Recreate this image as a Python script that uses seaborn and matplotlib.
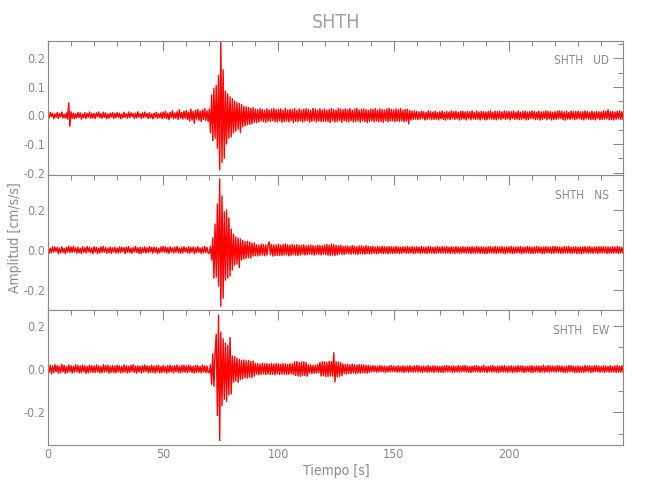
"""Three-component accelerogram, station SHTH (UD, NS, EW)."""

import matplotlib

matplotlib.use("Agg")
import matplotlib.pyplot as plt
import numpy as np
import pandas as pd
import seaborn as sns
from matplotlib.ticker import FormatStrFormatter, MultipleLocator

STATION = "SHTH"
COMPONENTS = ["UD", "NS", "EW"]
DT = 0.5  # s between samples
SCALE = 1e-3  # values below are in 0.001 cm/s/s

# amplitude samples (x 0.001 cm/s/s), one row = 10 s
UD_MILLI = [
    6, -9, 11, -4, 8, -12, 5, -7, 10, -11, 7, -5, 12, -9, 4, -10, 9, -13, 44, -38,
    13, -10, 8, -12, 6, -9, 11, -7, 9, -13, 5, -8, 10, -11, 7, -6, 12, -10, 8, -9,
    7, -11, 9, -5, 12, -8, 6, -10, 11, -7, 9, -12, 5, -9, 8, -6, 10, -11, 7, -8,
    10, -6, 8, -12, 5, -9, 11, -7, 6, -10, 12, -8, 9, -5, 7, -11, 8, -9, 13, -6,
    6, -10, 9, -8, 12, -6, 7, -11, 10, -9, 5, -12, 8, -7, 11, -10, 6, -8, 9, -11,
    12, -9, 14, -11, 8, -15, 11, -7, 16, -12, 9, -10, 13, -14, 20, -9, 11, -13, 15, -10,
    17, -14, 12, -20, 22, -16, 14, -28, 18, -12, 21, -17, 15, -22, 19, -14, 24, -18, 16, -21,
    22, -60, 72, -88, 95, -80, 105, -115, 140, -190, 255, -165, 160, -150, 85, -100, 75, -80, 65, -75,
    58, -62, 50, -55, 45, -48, 42, -60, 38, -40, 32, -36, 30, -33, 28, -31, 25, -30, 27, -24,
    22, -25, 20, -23, 24, -19, 21, -22, 18, -24, 23, -20, 19, -21, 22, -18, 24, -22, 20, -23,
    21, -19, 23, -24, 18, -22, 25, -20, 19, -23, 22, -18, 20, -25, 24, -21, 18, -22, 23, -19,
    19, -23, 22, -20, 24, -18, 21, -24, 17, -21, 25, -19, 22, -23, 18, -20, 24, -22, 19, -21,
    23, -20, 18, -22, 21, -25, 24, -19, 20, -23, 19, -21, 25, -18, 22, -24, 20, -19, 23, -22,
    20, -22, 24, -19, 18, -23, 22, -21, 25, -20, 19, -24, 21, -18, 23, -22, 20, -25, 18, -21,
    22, -19, 21, -23, 24, -20, 18, -22, 23, -21, 20, -24, 19, -18, 22, -23, 25, -20, 21, -19,
    19, -22, 23, -20, 20, -21, 24, -19, 18, -23, 21, -20, 22, -30, 17, -16, 15, -14, 16, -13,
    14, -15, 12, -13, 15, -11, 13, -16, 11, -14, 16, -12, 13, -15, 12, -14, 15, -13, 11, -16,
    13, -12, 15, -14, 11, -16, 14, -13, 12, -15, 16, -11, 13, -14, 15, -12, 11, -16, 14, -13,
    15, -13, 12, -16, 14, -11, 13, -15, 16, -12, 11, -14, 15, -13, 12, -16, 14, -12, 13, -15,
    12, -15, 14, -12, 16, -13, 11, -14, 15, -16, 13, -12, 14, -15, 12, -11, 16, -14, 13, -12,
    14, -16, 13, -11, 15, -14, 12, -13, 16, -15, 11, -13, 14, -12, 15, -16, 12, -14, 13, -11,
    16, -12, 14, -15, 11, -13, 15, -16, 12, -14, 13, -11, 16, -15, 14, -12, 13, -16, 11, -14,
    13, -14, 15, -12, 16, -11, 14, -15, 12, -16, 15, -13, 11, -14, 16, -12, 13, -15, 14, -13,
    15, -11, 12, -14, 13, -16, 16, -12, 14, -13, 11, -15, 15, -14, 12, -16, 14, -11, 13, -15,
    12, -14, 16, -13, 15, -12, 20, -15, 13, -14, 14, -16, 12, -13, 15, -11, 16, -14, 13, -15,
]

NS_MILLI = [
    12, -16, 9, -14, 17, -11, 15, -8, 13, -18, 10, -15, 16, -12, 8, -17, 14, -10, 18, -13,
    15, -12, 18, -9, 11, -16, 14, -13, 9, -17, 16, -11, 12, -15, 18, -10, 13, -14, 10, -18,
    17, -10, 13, -18, 9, -14, 16, -12, 18, -11, 12, -16, 10, -13, 15, -17, 11, -9, 14, -15,
    10, -15, 16, -13, 14, -9, 12, -18, 15, -11, 17, -14, 9, -16, 13, -10, 18, -12, 11, -17,
    14, -18, 11, -12, 16, -15, 10, -13, 17, -9, 13, -16, 15, -11, 12, -18, 9, -14, 16, -10,
    18, -11, 15, -14, 12, -17, 16, -10, 11, -15, 14, -12, 18, -13, 10, -16, 13, -15, 17, -9,
    11, -14, 17, -16, 13, -10, 15, -18, 12, -13, 16, -11, 10, -17, 14, -15, 18, -12, 13, -16,
    -15, 18, -50, 60, -140, 130, -135, 230, -180, 355, -280, 270, -240, 190, -150, 200, -140, 160, -130, 105,
    -100, 80, -75, 65, -70, 60, -87, 55, -50, 47, -45, 42, -42, 44, -38, 40, -40, 35, -30, 36,
    -28, 26, -30, 24, -27, 29, -25, 27, -29, 25, -26, 28, 40, -24, 27, -30, 25, -28, 26, -27,
    29, -26, 24, -28, 27, -25, 30, -24, 26, -29, 25, -27, 28, -23, 24, -26, 27, -28, 23, -25,
    24, -22, 26, -25, 21, -24, 23, -20, 25, -23, 22, -26, 20, -21, 24, -22, 23, -25, 21, -20,
    25, -23, 28, -26, 24, -27, 30, -25, 26, -28, 23, -24, 22, -20, 24, -21, 19, -22, 20, -18,
    20, -19, 18, -21, 22, -17, 19, -20, 17, -22, 21, -18, 20, -19, 18, -21, 22, -17, 19, -20,
    17, -18, 19, -16, 15, -19, 18, -17, 16, -15, 19, -18, 17, -16, 15, -19, 18, -15, 16, -17,
    15, -17, 18, -15, 16, -18, 14, -16, 17, -14, 15, -17, 18, -16, 14, -15, 17, -18, 15, -16,
    16, -14, 15, -17, 18, -15, 14, -16, 15, -18, 17, -14, 16, -15, 14, -17, 15, -16, 18, -14,
    14, -16, 17, -14, 15, -16, 18, -15, 14, -17, 16, -15, 14, -18, 17, -14, 15, -16, 14, -15,
    17, -15, 14, -16, 16, -14, 15, -18, 17, -15, 14, -16, 18, -14, 15, -17, 16, -15, 14, -18,
    15, -18, 16, -14, 17, -15, 14, -16, 18, -17, 15, -14, 16, -15, 17, -16, 14, -18, 15, -14,
    16, -15, 18, -17, 14, -16, 15, -14, 16, -15, 17, -18, 14, -16, 15, -14, 18, -15, 16, -17,
    14, -17, 15, -16, 18, -14, 16, -15, 14, -18, 15, -16, 17, -14, 16, -15, 14, -17, 18, -16,
    18, -14, 16, -15, 15, -17, 14, -16, 17, -14, 16, -15, 18, -16, 14, -17, 15, -14, 16, -18,
    15, -16, 14, -18, 16, -15, 17, -14, 15, -16, 18, -15, 14, -17, 16, -14, 15, -18, 17, -15,
    16, -15, 17, -14, 15, -18, 16, -16, 14, -15, 17, -16, 15, -14, 18, -17, 16, -15, 14, -16,
]

EW_MILLI = [
    20, -15, 18, -22, 14, -17, 21, -12, 16, -19, 13, -18, 22, -14, 17, -20, 12, -16, 19, -13,
    16, -19, 13, -15, 20, -12, 17, -18, 14, -16, 19, -13, 15, -20, 12, -17, 18, -14, 16, -15,
    14, -16, 19, -13, 15, -18, 12, -17, 20, -14, 16, -12, 18, -19, 13, -15, 17, -16, 14, -18,
    18, -13, 15, -17, 12, -16, 19, -14, 16, -18, 13, -15, 17, -12, 20, -16, 14, -19, 15, -13,
    13, -18, 16, -14, 19, -12, 15, -17, 13, -16, 18, -15, 14, -19, 16, -13, 17, -18, 12, -16,
    17, -14, 12, -19, 16, -15, 18, -13, 14, -17, 15, -12, 19, -16, 13, -18, 16, -14, 18, -15,
    15, -17, 18, -12, 14, -16, 13, -19, 17, -15, 16, -14, 12, -18, 19, -13, 15, -17, 14, -16,
    -15, 20, -70, 70, -80, 75, 160, -215, 250, -330, 170, -170, 140, -140, 120, -150, 110, -120, 146, -115,
    60, -60, 58, -55, 50, -62, 45, -48, 40, -45, 42, -40, 38, -42, 40, -38, 35, -40, 37, -33,
    26, -24, 25, -27, 23, -25, 27, -22, 24, -26, 25, -23, 22, -25, 26, -24, 23, -27, 25, -22,
    24, -25, 22, -23, 26, -24, 23, -25, 21, -24, 25, -22, 24, -26, 33, -30, 35, -32, 30, -34,
    32, -29, 34, -31, 30, -33, 20, -18, 19, -21, 17, -20, 18, -19, 21, -17, 30, -32, 34, -30,
    33, -35, 31, -34, 36, -32, 35, -33, 75, -60, 34, -36, 32, -33, 30, -31, 24, -22, 21, -23,
    22, -20, 19, -21, 23, -18, 20, -22, 18, -19, 21, -20, 19, -17, 20, -18, 17, -19, 18, -16,
    15, -13, 16, -12, 14, -15, 13, -14, 16, -12, 15, -13, 14, -16, 12, -14, 15, -13, 16, -12,
    14, -12, 13, -15, 16, -13, 12, -14, 15, -16, 13, -12, 14, -15, 16, -13, 12, -14, 15, -13,
    16, -14, 15, -13, 12, -16, 14, -12, 13, -15, 16, -14, 12, -13, 15, -16, 14, -12, 13, -15,
    13, -15, 14, -16, 15, -12, 16, -13, 14, -12, 13, -16, 15, -14, 12, -13, 16, -15, 14, -12,
    15, -12, 16, -14, 13, -15, 12, -16, 14, -13, 15, -12, 16, -14, 13, -15, 12, -13, 18, -14,
    12, -16, 13, -12, 15, -14, 16, -13, 12, -15, 14, -16, 13, -12, 15, -14, 16, -13, 12, -15,
    14, -13, 15, -16, 12, -14, 13, -15, 16, -12, 14, -13, 15, -16, 12, -14, 13, -12, 15, -16,
    16, -15, 12, -13, 14, -12, 15, -16, 13, -14, 18, -15, 12, -13, 16, -14, 15, -12, 14, -13,
    13, -14, 16, -12, 15, -13, 14, -15, 12, -16, 13, -14, 16, -12, 15, -13, 14, -16, 12, -15,
    15, -16, 13, -14, 12, -15, 16, -13, 14, -12, 15, -16, 13, -14, 16, -12, 15, -13, 14, -15,
    12, -13, 15, -16, 14, -12, 13, -15, 16, -14, 12, -13, 15, -16, 17, -14, 13, -15, 16, -14,
]

# axis ranges per component (cm/s/s) and y tick spacing
Y_LIMITS = {"UD": (-0.21, 0.262), "NS": (-0.30, 0.372), "EW": (-0.351, 0.272)}
Y_MAJOR = {"UD": 0.1, "NS": 0.2, "EW": 0.2}
Y_MINOR = {"UD": 0.05, "NS": 0.1, "EW": 0.1}
X_LIMITS = (0, 249.5)

GRAY = "#8a8a8a"
TRACE_COLOR = "#ff0000"

sns.set_style("white")
plt.rcParams["font.family"] = ["DejaVu Sans"]
plt.rcParams["font.stretch"] = "condensed"


def build_frame() -> pd.DataFrame:
    frames = []
    for comp, values in zip(COMPONENTS, [UD_MILLI, NS_MILLI, EW_MILLI]):
        amp = np.asarray(values, dtype=float) * SCALE
        frames.append(pd.DataFrame({"t": np.arange(len(amp)) * DT, "amp": amp, "comp": comp}))
    return pd.concat(frames, ignore_index=True)


def style_axis(ax, comp: str) -> None:
    ax.set_xlim(*X_LIMITS)
    ax.set_ylim(*Y_LIMITS[comp])
    ax.xaxis.set_major_locator(MultipleLocator(50))
    ax.xaxis.set_minor_locator(MultipleLocator(10))
    ax.yaxis.set_major_locator(MultipleLocator(Y_MAJOR[comp]))
    ax.yaxis.set_minor_locator(MultipleLocator(Y_MINOR[comp]))
    ax.yaxis.set_major_formatter(FormatStrFormatter("%.1f"))
    ax.tick_params(which="both", direction="in", top=True, right=True,
                   color=GRAY, labelcolor=GRAY, labelsize=9, width=0.8)
    ax.tick_params(which="major", length=7, pad=2)
    ax.tick_params(which="minor", length=3.5)
    for spine in ax.spines.values():
        spine.set_color(GRAY)
        spine.set_linewidth(0.8)
    ax.set_xlabel("")
    ax.set_ylabel("")
    ax.text(0.976, 0.85, f"{STATION}   {comp}", transform=ax.transAxes,
            ha="right", va="center", fontsize=8.5, color=GRAY)


def main() -> None:
    df = build_frame()

    fig, axes = plt.subplots(3, 1, figsize=(6.5, 5), dpi=100, sharex=True)
    fig.subplots_adjust(left=0.0738, right=0.9585, bottom=0.11, top=0.9188, hspace=0)

    for ax, comp in zip(axes, COMPONENTS):
        sub = df[df["comp"] == comp]
        sns.lineplot(data=sub, x="t", y="amp", ax=ax, color=TRACE_COLOR,
                     linewidth=1.0, estimator=None, sort=False)
        style_axis(ax, comp)

    for ax in axes[:-1]:
        ax.tick_params(labelbottom=False)

    fig.text(336 / 650, 1 - 22 / 500, STATION, ha="center", va="center",
             fontsize=14, color="#a0a0a0")
    fig.text(336 / 650, 1 - 471 / 500, "Tiempo [s]", ha="center", va="center",
             fontsize=10, color=GRAY)
    fig.text(15 / 650, 1 - 238 / 500, "Amplitud [cm/s/s]", ha="center", va="center",
             rotation=90, fontsize=10, color=GRAY)

    fig.savefig("out.png", dpi=100)
    plt.close(fig)


if __name__ == "__main__":
    main()
